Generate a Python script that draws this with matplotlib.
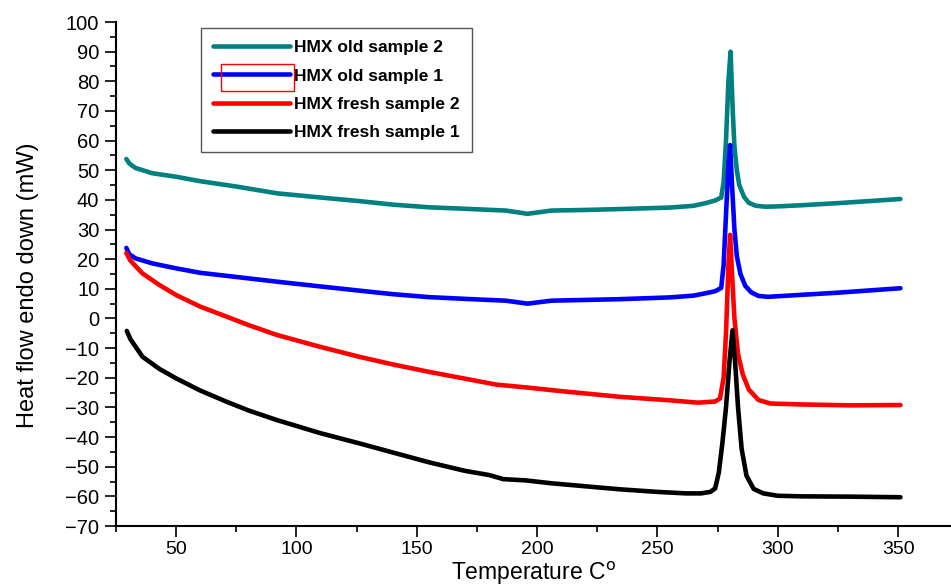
import matplotlib
matplotlib.use("Agg")
import matplotlib.pyplot as plt
from matplotlib.patches import Rectangle
from matplotlib.ticker import MultipleLocator

# DSC traces: temperature (C) vs heat flow (mW)
old2_T = [29.3, 30.5, 33, 40, 50, 60, 75, 92, 110, 126, 140, 155, 170, 187, 196, 206, 220, 234,
          255, 265, 270, 274, 276.5, 277.5, 278.5, 279.5, 280.4, 281.3, 282, 283, 284, 286, 288,
          291, 295, 300, 310, 325, 340, 351]
old2_Q = [53.8, 52.3, 50.8, 49.0, 47.8, 46.3, 44.5, 42.2, 40.8, 39.6, 38.4, 37.5, 37.0, 36.4, 35.3,
          36.4, 36.6, 36.9, 37.4, 38.0, 38.9, 39.8, 40.8, 46, 60, 80, 90, 70, 58, 50, 45, 41, 39,
          38.0, 37.7, 37.8, 38.2, 38.9, 39.7, 40.3]

old1_T = [29.3, 30.5, 33, 40, 50, 60, 75, 92, 110, 126, 140, 155, 173, 187, 196, 206, 234, 255,
          265, 270, 274, 276.5, 277.5, 278.5, 279.5, 280.2, 281, 282, 283, 284.5, 286.5, 289, 292,
          296, 300, 325, 351]
old1_Q = [23.8, 21.7, 20.3, 18.6, 16.9, 15.4, 14.0, 12.4, 10.8, 9.4, 8.2, 7.2, 6.5, 6.0, 5.0, 6.0,
          6.5, 7.1, 7.7, 8.5, 9.2, 10.3, 18, 35, 52, 58.5, 45, 30, 21, 15, 11, 8.8, 7.6, 7.3, 7.5,
          8.7, 10.2]

fresh2_T = [29.3, 31, 36, 43, 50, 60, 71, 80, 92, 110, 126, 140, 155, 170, 183, 196, 210, 234,
            255, 267, 274, 276, 277.5, 278.5, 279.5, 280.2, 281, 282, 283.5, 285.5, 288, 292, 297,
            310, 330, 351]
fresh2_Q = [22.1, 19.5, 15.2, 11.3, 7.9, 4.0, 0.6, -2.2, -5.6, -9.6, -12.9, -15.5, -18.0, -20.3,
            -22.3, -23.3, -24.5, -26.4, -27.6, -28.4, -28.0, -27.0, -20, -5, 18, 28.2, 15, 0, -12,
            -19, -24, -27.5, -28.7, -29.0, -29.3, -29.2]

fresh1_T = [29.5, 31, 36, 43, 50, 60, 71, 80, 92, 110, 126, 140, 155, 170, 180, 186, 195, 206,
            220, 234, 250, 262, 268, 272, 274, 275.5, 277, 278.5, 280, 281.2, 282.3, 283.5, 285,
            287, 290, 294, 300, 310, 330, 351]
fresh1_Q = [-4.2, -7.0, -12.9, -17.0, -20.2, -24.3, -28.1, -31.0, -34.3, -38.7, -42.1, -45.2,
            -48.5, -51.4, -52.8, -54.2, -54.6, -55.6, -56.6, -57.6, -58.5, -59.0, -59.0, -58.5,
            -57.3, -52, -42, -30, -14, -4, -15, -30, -44, -53, -57.5, -59.0, -59.8, -60.0, -60.1,
            -60.3]

labels = ["HMX old sample 2", "HMX old sample 1", "HMX fresh sample 2", "HMX fresh sample 1"]
colors = ["#008080", "#0000ff", "#ff0000", "#000000"]

plt.rcParams["font.family"] = ["Liberation Sans", "DejaVu Sans"]

fig = plt.figure(figsize=(9.51, 5.87), dpi=100)
ax = fig.add_axes([116 / 951, 1 - 526 / 587, 835 / 951, 504 / 587])

series = [(old2_T, old2_Q), (old1_T, old1_Q), (fresh2_T, fresh2_Q), (fresh1_T, fresh1_Q)]
for (t, q), lab, c in zip(series, labels, colors):
    ax.plot(t, q, color=c, lw=3.3, label=lab, solid_joinstyle="round", solid_capstyle="round")

ax.set_xlim(25, 372)
ax.set_ylim(-70, 100)
ax.xaxis.set_major_locator(MultipleLocator(50))
ax.xaxis.set_minor_locator(MultipleLocator(25))
ax.yaxis.set_major_locator(MultipleLocator(10))
ax.yaxis.set_minor_locator(MultipleLocator(5))
ax.set_xticks([50, 100, 150, 200, 250, 300, 350])

for s in ["top", "right"]:
    ax.spines[s].set_visible(False)
for s in ["left", "bottom"]:
    ax.spines[s].set_linewidth(1.5)

ax.tick_params(which="major", direction="out", length=8, width=1.2, labelsize=14.5, pad=4)
ax.tick_params(axis="x", which="major", pad=3, labelsize=14)
ax.tick_params(which="minor", direction="out", length=4, width=1.2)

ax.set_ylabel("Heat flow endo down (mW)", fontsize=17)
ax.yaxis.set_label_coords(-0.092, 0.478)
xl = ax.set_xlabel(r"Temperature C$^{\mathrm{o}}$", fontsize=16.5)
xl.set_va("baseline")
ax.xaxis.set_label_coords(0.5, -0.107)

leg = ax.legend(loc="upper left", bbox_to_anchor=(0.102, 0.988), borderaxespad=0,
                handlelength=4.4, handletextpad=0.25, labelspacing=0.75, borderpad=0.7,
                prop={"weight": "bold", "size": 12.5}, fancybox=False, framealpha=1)
leg.get_frame().set_edgecolor("#555555")
leg.get_frame().set_linewidth(1.0)

# selection box around the second legend handle
fig.patches.append(Rectangle((221 / 951, 1 - 91 / 587), 73 / 951, 27 / 587,
                             transform=fig.transFigure, fill=False, edgecolor="red", lw=1.0))

fig.savefig("out.png", dpi=100)
